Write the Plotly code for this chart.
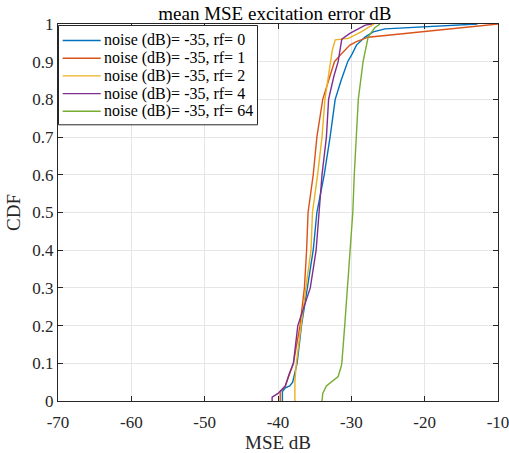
import plotly.graph_objects as go

# ---- data ----
names = ["noise (dB)= -35, rf= 0", "noise (dB)= -35, rf= 1", "noise (dB)= -35, rf= 2",
         "noise (dB)= -35, rf= 4", "noise (dB)= -35, rf= 64"]

x_rf0 = [-39.4, -39.4, -39.0, -38.4, -38.0, -37.8, -37.4, -36.8, -36.0, -35.2, -34.7, -33.7, -32.9, -32.2, -31.4, -30.5, -29.9, -29.3, -28.1, -27.0, -25.4, -12.8]
y_rf0 = [0.0, 0.025, 0.035, 0.04, 0.05, 0.07, 0.10, 0.20, 0.30, 0.40, 0.50, 0.60, 0.70, 0.80, 0.85, 0.90, 0.92, 0.944, 0.966, 0.979, 0.987, 1.0]

x_rf1 = [-39.7, -39.7, -39.0, -38.4, -37.9, -37.0, -36.4, -36.1, -35.9, -35.2, -34.7, -33.9, -32.9, -32.3, -31.3, -30.2, -29.3, -27.7, -10.0]
y_rf1 = [0.0, 0.025, 0.04, 0.07, 0.10, 0.20, 0.30, 0.40, 0.50, 0.60, 0.70, 0.80, 0.86, 0.90, 0.922, 0.944, 0.953, 0.965, 1.0]

x_rf2 = [-37.7, -37.7, -37.5, -36.9, -36.2, -35.5, -35.3, -34.6, -34.0, -33.6, -33.0, -32.6, -32.2, -30.4, -28.6, -26.9]
y_rf2 = [0.0, 0.05, 0.10, 0.20, 0.30, 0.40, 0.50, 0.60, 0.70, 0.80, 0.88, 0.93, 0.958, 0.962, 0.98, 1.0]

x_rf4 = [-40.8, -40.8, -40.0, -39.0, -38.5, -37.9, -37.3, -36.5, -35.6, -34.8, -34.4, -34.0, -33.4, -33.1, -32.4, -31.8, -31.3, -30.2, -28.1, -27.2]
y_rf4 = [0.0, 0.01, 0.02, 0.04, 0.07, 0.10, 0.20, 0.25, 0.30, 0.40, 0.50, 0.60, 0.70, 0.80, 0.86, 0.90, 0.96, 0.975, 0.997, 1.0]

x_rf64 = [-34.0, -33.9, -33.4, -32.5, -31.8, -31.4, -31.3, -30.9, -30.5, -30.2, -29.8, -29.6, -29.3, -29.05, -28.4, -28.0, -27.7, -26.8, -26.1]
y_rf64 = [0.0, 0.02, 0.04, 0.055, 0.065, 0.09, 0.10, 0.20, 0.30, 0.40, 0.50, 0.60, 0.70, 0.80, 0.90, 0.944, 0.966, 0.99, 1.0]

xs = [x_rf0, x_rf1, x_rf2, x_rf4, x_rf64]
ys = [y_rf0, y_rf1, y_rf2, y_rf4, y_rf64]
colors = ["#0072BD", "#D95319", "#EDB120", "#7E2F8E", "#77AC30"]

x_ticks = [-70, -60, -50, -40, -30, -20, -10]
x_ticktext = ["-70", "-60", "-50", "-40", "-30", "-20", "-10"]
y_ticks = [0, 0.1, 0.2, 0.3, 0.4, 0.5, 0.6, 0.7, 0.8, 0.9, 1]
y_ticktext = ["0", "0.1", "0.2", "0.3", "0.4", "0.5", "0.6", "0.7", "0.8", "0.9", "1"]

FONT = "Liberation Serif"

W, H = 509, 453
ML, MR, MT, MB = 58, 11, 24, 52
PW, PH = W - ML - MR, H - MT - MB

fig = go.Figure()
for n, x, y, c in zip(names, xs, ys, colors):
    fig.add_trace(go.Scatter(x=x, y=y, mode="lines", name=n, showlegend=False,
                             line=dict(color=c, width=1.4)))

# ---- legend box drawn in plot-paper coordinates (MATLAB-style compact legend) ----
def px_x(p):
    return p / PW

def px_y(p):
    return 1 - p / PH

leg_left, leg_top, leg_w = 0.5, 1.5, 199
row_h, row0 = 17.7, 15.0
line_x0, line_x1, text_x = 4.7, 42.7, 44.0
leg_h = row0 * 2 + row_h * (len(names) - 1) - 1.5

shapes = [dict(type="rect", xref="paper", yref="paper",
               x0=px_x(leg_left), x1=px_x(leg_left + leg_w),
               y0=px_y(leg_top + leg_h), y1=px_y(leg_top),
               line=dict(color="#262626", width=1), fillcolor="white", layer="above")]
annotations = []
for i, (n, c) in enumerate(zip(names, colors)):
    yc = px_y(leg_top + row0 + i * row_h)
    shapes.append(dict(type="line", xref="paper", yref="paper",
                       x0=px_x(line_x0), x1=px_x(line_x1), y0=yc, y1=yc,
                       line=dict(color=c, width=1.4), layer="above"))
    annotations.append(dict(text=n, xref="paper", yref="paper", x=px_x(text_x), y=yc,
                            xanchor="left", yanchor="middle", showarrow=False,
                            font=dict(family=FONT, size=16, color="#000000")))

axis_common = dict(showline=True, linecolor="#262626", linewidth=1, mirror="ticks",
                   ticks="inside", ticklen=5, tickcolor="#262626",
                   showgrid=True, gridcolor="#E6E6E6", gridwidth=1, zeroline=False,
                   automargin=False,
                   tickfont=dict(family=FONT, size=17, color="#262626"))

fig.update_layout(
    width=W, height=H,
    margin=dict(l=ML, r=MR, t=MT, b=MB),
    paper_bgcolor="white", plot_bgcolor="white",
    font=dict(family=FONT, color="#262626"),
    title=dict(text="mean MSE excitation error dB", x=0.54, xanchor="center",
               y=0.985, yanchor="top", pad=dict(t=0, b=0),
               font=dict(family=FONT, size=19, color="#000000")),
    xaxis=dict(range=[-70, -10], tickvals=x_ticks, ticktext=x_ticktext,
               ticklabeloverflow="allow", ticklabelstandoff=6,
               title=dict(text="MSE dB", font=dict(family=FONT, size=19, color="#262626"), standoff=0),
               **axis_common),
    yaxis=dict(range=[0, 1], tickvals=y_ticks, ticktext=y_ticktext,
               title=dict(text="CDF", font=dict(family=FONT, size=19, color="#262626"), standoff=6),
               **axis_common),
    shapes=shapes,
    annotations=annotations,
    showlegend=False,
)

fig.write_html("out.html")
